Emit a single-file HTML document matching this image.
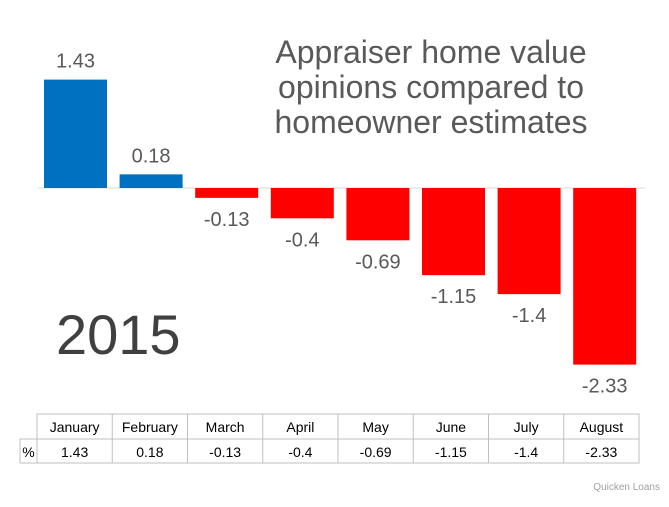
<!DOCTYPE html>
<html><head><meta charset="utf-8"><style>
body{margin:0;background:#fff;width:669px;height:502px;overflow:hidden;font-family:"Liberation Sans",sans-serif}
svg text{font-family:"Liberation Sans",sans-serif}
</style></head><body>
<svg id="c" width="669" height="502">
<text x="431" y="63" font-size="32" fill="#595959" text-anchor="middle"><tspan x="431">Appraiser home value</tspan><tspan x="431" dy="35">opinions compared to</tspan><tspan x="431" dy="35">homeowner estimates</tspan></text>
<text x="56" y="354" font-size="56" fill="#404040">2015</text>
<text x="660" y="490" font-size="10" fill="#a0a0a0" text-anchor="end">Quicken Loans</text>
<g id="bars"></g><g id="tbl"></g>
</svg>
<script>
const months=["January","February","March","April","May","June","July","August"];
const values=[1.43,0.18,-0.13,-0.4,-0.69,-1.15,-1.4,-2.33];
const labels=["1.43","0.18","-0.13","-0.4","-0.69","-1.15","-1.4","-2.33"];
const NS="http://www.w3.org/2000/svg";
const base=188,scale=75.8,x0=44,step=75.6,bw=63;
const y=v=>base-v*scale;
const g=document.getElementById('bars');
function mk(t,a,p){const e=document.createElementNS(NS,t);for(const k in a)e.setAttribute(k,a[k]);p.appendChild(e);return e;}
const ax=mk('line',{x1:38,x2:645,y1:base,y2:base,stroke:'#d9d9d9','stroke-width':1},g);


values.forEach((v,i)=>{
 const x=x0+i*step,top=Math.min(y(v),base),h=Math.abs(y(v)-base);
 const r=mk('rect',{x:x,y:top,width:bw,height:h,fill:v>=0?'#0070c0':'#ff0000'},g);
 
 
 const ty=v>=0?y(v)-12:y(v)+28;
 const t=mk('text',{x:x+bw/2,y:ty,'font-size':20,fill:'#595959','text-anchor':'middle'},g);
 t.textContent=labels[i];
 
 
});
const tb=document.getElementById('tbl');
const L=20,C=37,R=639,T=414,M=439,B=463,cw=(R-C)/8;
mk('rect',{x:C,y:T,width:R-C,height:B-T,fill:'none',stroke:'#bfbfbf'},tb);
mk('line',{x1:L,x2:C,y1:M,y2:M,stroke:'#bfbfbf'},tb);
mk('line',{x1:L,x2:L,y1:M,y2:B,stroke:'#bfbfbf'},tb);
mk('line',{x1:L,x2:C,y1:B,y2:B,stroke:'#bfbfbf'},tb);
mk('line',{x1:C,x2:R,y1:M,y2:M,stroke:'#bfbfbf'},tb);
const pc=mk('text',{x:28.5,y:457,'font-size':14,fill:'#000','text-anchor':'middle'},tb);pc.textContent='%';


months.forEach((m,i)=>{
 const cx=C+i*cw;
 if(i>0)mk('line',{x1:cx,x2:cx,y1:T,y2:B,stroke:'#bfbfbf'},tb);
 const a=mk('text',{x:cx+cw/2,y:432,'font-size':14,fill:'#000','text-anchor':'middle'},tb);a.textContent=m;
 
 
 const b=mk('text',{x:cx+cw/2,y:457,'font-size':14,fill:'#000','text-anchor':'middle'},tb);b.textContent=labels[i];
 
 
});
</script>
</body></html>
